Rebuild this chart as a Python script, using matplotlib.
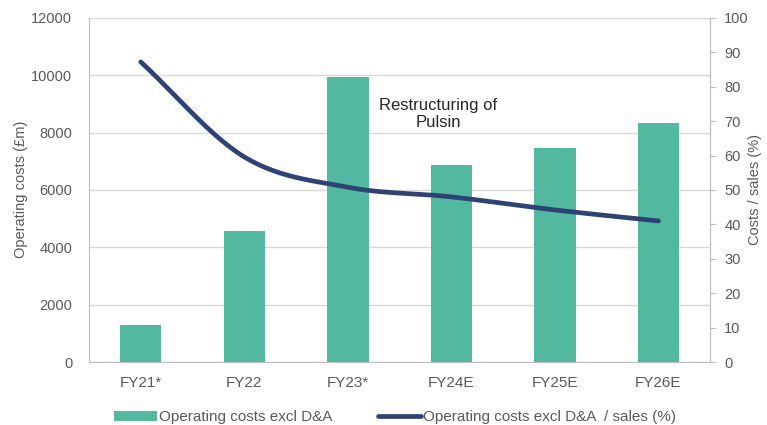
import matplotlib.pyplot as plt
import numpy as np

# Chart data
categories = ["FY21*", "FY22", "FY23*", "FY24E", "FY25E", "FY26E"]
op_costs = [1300, 4570, 9940, 6870, 7470, 8330]      # £m, left axis
cost_sales = [87.2, 59.6, 50.8, 48.0, 44.2, 41.0]    # %, right axis

bar_col = "#52B9A0"
line_col = "#2E4373"
txt_col = "#595959"
grid_col = "#D9D9D9"

plt.rcParams['font.family'] = ['Liberation Sans', 'DejaVu Sans']


def smooth(xs, ys, n=30):
    # Catmull-Rom style smoothing, like Excel's smoothed line
    xs = np.asarray(xs, float)
    ys = np.asarray(ys, float)
    px = np.concatenate([[2 * xs[0] - xs[1]], xs, [2 * xs[-1] - xs[-2]]])
    py = np.concatenate([[2 * ys[0] - ys[1]], ys, [2 * ys[-1] - ys[-2]]])
    out_x, out_y = [], []
    for i in range(1, len(px) - 2):
        t = np.linspace(0, 1, n)
        for p, out in ((px, out_x), (py, out_y)):
            p0, p1, p2, p3 = p[i - 1], p[i], p[i + 1], p[i + 2]
            out.extend(0.5 * (2 * p1 + (-p0 + p2) * t
                              + (2 * p0 - 5 * p1 + 4 * p2 - p3) * t ** 2
                              + (-p0 + 3 * p1 - 3 * p2 + p3) * t ** 3))
    return out_x, out_y


fig = plt.figure(figsize=(7.67, 4.25), dpi=100)
ax = fig.add_axes([0.116, 0.148, 0.81, 0.81])
ax2 = ax.twinx()

x = np.arange(len(categories))
bars = ax.bar(x, op_costs, width=0.4, color=bar_col, zorder=2,
              label="Operating costs excl D&A")
ax.set_xlim(-0.5, len(categories) - 0.5)
ax.set_ylim(0, 12000)
ax.set_yticks(range(0, 12001, 2000))
ax.set_xticks(x)
ax.set_xticklabels(categories)
ax.yaxis.grid(True, color=grid_col, linewidth=1, zorder=0)
ax.set_axisbelow(True)

sx, sy = smooth(x, cost_sales)
line, = ax2.plot(sx, sy, color=line_col, linewidth=3.4, solid_capstyle='round',
                 label="Operating costs excl D&A  / sales (%)")
ax2.set_ylim(0, 100)
ax2.set_yticks(range(0, 101, 10))

for a in (ax, ax2):
    a.spines["top"].set_visible(False)
    for s in ("left", "right", "bottom"):
        a.spines[s].set_color("#BFBFBF")
    a.tick_params(colors=txt_col, labelsize=10.5)
ax.tick_params(axis='y', length=0, pad=12)
ax.tick_params(axis='x', length=0, pad=10, labelsize=11)
ax2.tick_params(axis='y', length=4, color="#BFBFBF", pad=6)
ax2.spines["left"].set_visible(False)

fig.text(0.028, 0.555, "Operating costs (£m)", rotation=90, ha='center', va='center',
         color=txt_col, fontsize=10.5)
fig.text(0.984, 0.555, "Costs / sales (%)", rotation=90, ha='center', va='center',
         color=txt_col, fontsize=10.5)

ax.text(2.87, 8650, "Restructuring of\nPulsin", ha='center', va='center',
        fontsize=12, color="#262626", linespacing=1.15)

fig.legend([bars, line], [bars.get_label(), line.get_label()], loc='center',
           bbox_to_anchor=(0.515, 0.018), ncol=2, frameon=False, fontsize=11,
           labelcolor=txt_col, handlelength=2.8, columnspacing=3.0,
           handletextpad=0.15, borderpad=0)

fig.savefig("out.png", dpi=100)
